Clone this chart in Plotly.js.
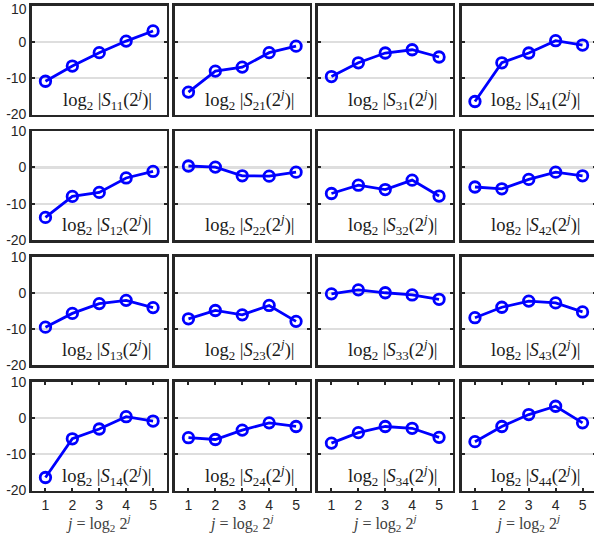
<!DOCTYPE html>
<html>
<head>
<meta charset="utf-8">
<script src="https://cdn.plot.ly/plotly-3.0.1.min.js"></script>
<style>
html,body{margin:0;padding:0;overflow:hidden;background:#fff;}
#chart{width:597px;height:534px;}
</style>
</head>
<body>
<div id="chart"></div>
<script>
// scale index j
const j = [1, 2, 3, 4, 5];
// log2 |S_rc(2^j)|
const S11 = [-10.8, -6.6, -2.9, 0.3, 3.1];
const S21 = [-13.8, -8.0, -6.9, -2.9, -1.1];
const S31 = [-9.5, -5.7, -3.0, -2.1, -4.1];
const S41 = [-16.4, -5.7, -3.0, 0.4, -0.8];
const S12 = [-13.8, -8.0, -6.9, -2.9, -1.1];
const S22 = [0.4, 0.1, -2.3, -2.4, -1.3];
const S32 = [-7.2, -4.9, -6.1, -3.5, -7.9];
const S42 = [-5.4, -5.9, -3.3, -1.3, -2.3];
const S13 = [-9.5, -5.7, -3.0, -2.1, -4.1];
const S23 = [-7.2, -4.9, -6.1, -3.5, -7.9];
const S33 = [-0.3, 0.8, 0.0, -0.6, -1.8];
const S43 = [-6.9, -4.0, -2.3, -2.8, -5.3];
const S14 = [-16.4, -5.7, -3.0, 0.4, -0.8];
const S24 = [-5.4, -5.9, -3.3, -1.3, -2.3];
const S34 = [-6.9, -4.0, -2.3, -2.8, -5.3];
const S44 = [-6.5, -2.3, 1.0, 3.3, -1.3];

const panels = [
  [S11, S21, S31, S41],
  [S12, S22, S32, S42],
  [S13, S23, S33, S43],
  [S14, S24, S34, S44]
];
const labels = [
  ['11','21','31','41'],
  ['12','22','32','42'],
  ['13','23','33','43'],
  ['14','24','34','44']
];
const yTickVals = [-20, -10, 0, 10];
const yTickText = ['-20', '-10', '0', '10'];
const xTickVals = [1, 2, 3, 4, 5];
const xTickText = ['1', '2', '3', '4', '5'];

const W = 597, H = 534, T = 6;
const colPx = [[32, 166.5], [175, 309.5], [318, 452.5], [461.5, 596]];
const rowPx = [[6, 114.5], [131.3, 239.8], [256.6, 365.1], [382, 490.5]];
const PH = H - T;

const frame = '#262626';
const tickFont = {family: 'Liberation Sans, Arial, sans-serif', size: 14, color: '#262626'};
const data = [];
const layout = {
  width: W, height: H,
  margin: {l: 0, r: 0, t: T, b: 0},
  paper_bgcolor: '#fff', plot_bgcolor: '#fff',
  showlegend: false,
  annotations: []
};

let n = 0;
for (let r = 0; r < 4; r++) {
  for (let c = 0; c < 4; c++) {
    n++;
    const sx = n === 1 ? '' : String(n);
    data.push({
      x: j, y: panels[r][c], xaxis: 'x' + sx, yaxis: 'y' + sx,
      type: 'scatter', mode: 'lines+markers',
      line: {color: '#0000ff', width: 2.8},
      marker: {symbol: 'circle-open', size: 10.5, color: '#0000ff', line: {width: 2.8, color: '#0000ff'}},
      hoverinfo: 'skip', cliponaxis: false
    });
    const bottom = r === 3;
    layout['xaxis' + sx] = {
      domain: [colPx[c][0] / W, colPx[c][1] / W],
      anchor: 'y' + sx,
      range: [0.5, 5.5],
      tickvals: xTickVals, ticktext: xTickText,
      showticklabels: bottom,
      ticks: bottom ? 'inside' : '', ticklen: 3, tickwidth: 2, tickcolor: frame,
      showgrid: false, zeroline: false,
      showline: true, linecolor: frame, linewidth: 2.8, mirror: bottom ? 'allticks' : true,
      tickfont: tickFont,
      fixedrange: true,
      title: bottom ? {text: '<i>j</i> = log<sub>2</sub> 2<sup><i>j</i></sup>', standoff: 1,
        font: {family: 'Liberation Serif, DejaVu Serif, serif', size: 16, color: '#404040'}} : {text: ''}
    };
    // the top-most "10" label sits on the page edge; it is drawn as an annotation below
    const topLeft = (r === 0 && c === 0);
    layout['yaxis' + sx] = {
      domain: [Math.max(0, 1 - (rowPx[r][1] - T) / PH), Math.min(1, 1 - (rowPx[r][0] - T) / PH)],
      anchor: 'x' + sx,
      range: [-20, 10],
      tickvals: topLeft ? yTickVals.slice(0, 3) : yTickVals,
      ticktext: topLeft ? yTickText.slice(0, 3) : yTickText,
      showticklabels: c === 0,
      ticks: 'inside', ticklen: 3, tickwidth: 2, tickcolor: frame,
      showgrid: true, gridcolor: '#dedede', gridwidth: 2.2,
      zeroline: false,
      showline: true, linecolor: frame, linewidth: 2.8, mirror: 'allticks',
      tickfont: tickFont,
      fixedrange: true
    };
    if (topLeft) {
      layout.annotations.push({
        xref: 'paper', yref: 'paper', x: 27.5 / W, y: 1, yshift: 6,
        xanchor: 'right', yanchor: 'top', showarrow: false,
        text: yTickText[3], font: tickFont, borderpad: 0
      });
    }
    const lab = labels[r][c];
    layout.annotations.push({
      xref: 'x' + sx + ' domain', yref: 'y' + sx + ' domain',
      x: 0.905, y: 0.14, xanchor: 'right', yanchor: 'middle',
      showarrow: false,
      text: 'log<sub>2</sub> |<i>S</i><sub>' + lab + '</sub>(2<sup><i>j</i></sup>)|',
      font: {family: 'Liberation Serif, DejaVu Serif, serif', size: 18.5, color: '#1a1a1a'}
    });
  }
}

Plotly.newPlot('chart', data, layout, {staticPlot: true, displayModeBar: false});
</script>
</body>
</html>
